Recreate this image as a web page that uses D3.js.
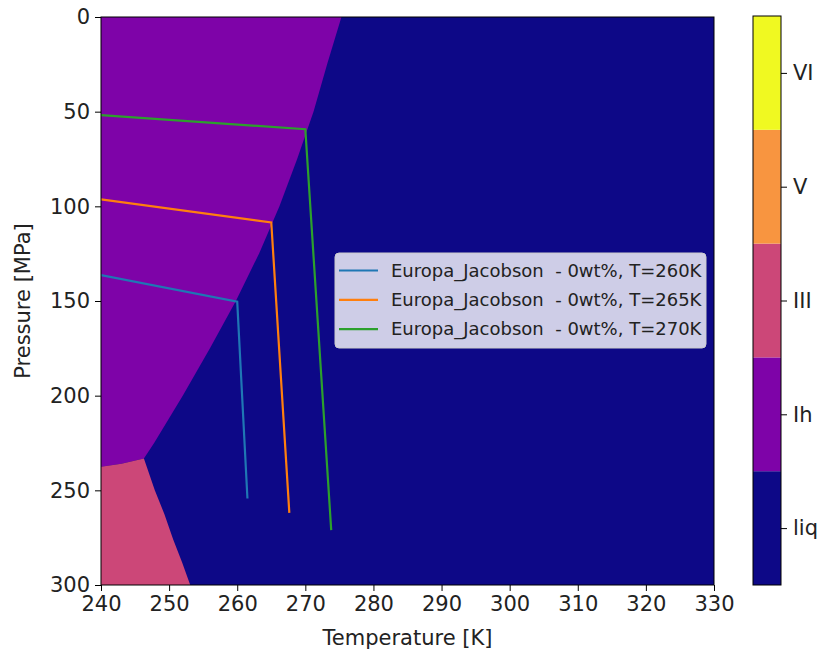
<!DOCTYPE html>
<html>
<head>
<meta charset="utf-8">
<script src="https://cdn.jsdelivr.net/npm/d3@7"></script>
<style>
  body { margin: 0; background: #fff; }
  text { font-family: "DejaVu Sans", sans-serif; fill: #222; }
</style>
</head>
<body>
<svg id="chart" width="823" height="655"></svg>
<script>
// Phase labels and their plasma colours (liq at the bottom of the colorbar)
const phaseNames = ["liq", "Ih", "III", "V", "VI"];
const phaseColors = ["#0d0887", "#7e03a8", "#cc4778", "#f89540", "#f0f921"];

// Axis ticks
const xTicks = [240, 250, 260, 270, 280, 290, 300, 310, 320, 330];
const yTicks = [0, 50, 100, 150, 200, 250, 300];

// Ice Ih / liquid melting curve (pressure MPa, temperature K)
const meltIhP = [0, 25, 50, 75, 100, 125, 150, 175, 200, 225, 233.2];
const meltIhT = [275.3, 273.2, 271.2, 268.8, 266.2, 263.2, 259.8, 256.0, 252.0, 247.8, 246.3];

// Ice Ih / ice III boundary
const ihIIIT = [240, 243, 246.3];
const ihIIIP = [237.6, 236.0, 233.2];

// Ice III / liquid melting curve
const meltIIIP = [233.2, 250, 262.5, 276, 288, 300];
const meltIIIT = [246.3, 247.9, 249.3, 250.6, 251.9, 253.1];

// Ocean temperature profiles
const profileLabels = [
  "Europa_Jacobson  - 0wt%, T=260K",
  "Europa_Jacobson  - 0wt%, T=265K",
  "Europa_Jacobson  - 0wt%, T=270K"
];
const profileColors = ["#1f77b4", "#ff7f0e", "#2ca02c"];
const profileT = [[240, 260, 261.5], [240, 265, 267.65], [240, 270, 273.8]];
const profileP = [[136.3, 150.4, 254.3], [96.3, 108.5, 261.9], [51.8, 59.3, 271.0]];

const tickFont = "21px";
const legendFont = "18px";

const svg = d3.select("#chart");
const x = d3.scaleLinear().domain([240, 330]).range([101, 714]);
const y = d3.scaleLinear().domain([0, 300]).range([17, 585]);

svg.append("defs").append("clipPath").attr("id", "plotClip")
  .append("rect").attr("x", x(240)).attr("y", y(0))
  .attr("width", x(330) - x(240)).attr("height", y(300) - y(0));

const plot = svg.append("g").attr("clip-path", "url(#plotClip)");

// liquid background
plot.append("rect")
  .attr("x", x(240)).attr("y", y(0))
  .attr("width", x(330) - x(240)).attr("height", y(300) - y(0))
  .attr("fill", phaseColors[0]);

const line = d3.line().x(d => x(d[0])).y(d => y(d[1]));

// ice Ih region
const ihPoly = [[240, 0]]
  .concat(meltIhT.map((t, i) => [t, meltIhP[i]]))
  .concat(ihIIIT.map((t, i) => [t, ihIIIP[i]]).reverse());
plot.append("path").attr("d", line(ihPoly) + "Z").attr("fill", phaseColors[1]);

// ice III region
const iiiPoly = ihIIIT.map((t, i) => [t, ihIIIP[i]])
  .concat(meltIIIT.map((t, i) => [t, meltIIIP[i]]))
  .concat([[240, 300]]);
plot.append("path").attr("d", line(iiiPoly) + "Z").attr("fill", phaseColors[2]);

// profiles
profileT.forEach((ts, k) => {
  plot.append("path")
    .attr("d", line(ts.map((t, i) => [t, profileP[k][i]])))
    .attr("fill", "none")
    .attr("stroke", profileColors[k])
    .attr("stroke-width", 2.2)
    .attr("stroke-linejoin", "miter");
});

// axes
const xAxis = svg.append("g").attr("transform", `translate(0,${y(300)})`)
  .call(d3.axisBottom(x).tickValues(xTicks).tickSize(6).tickPadding(5));
const yAxis = svg.append("g").attr("transform", `translate(${x(240)},0)`)
  .call(d3.axisLeft(y).tickValues(yTicks).tickSize(6).tickPadding(5));
[xAxis, yAxis].forEach(a => {
  a.selectAll("text").style("font-size", tickFont).attr("fill", "#222");
  a.selectAll("line").attr("stroke", "#000");
  a.select(".domain").remove();
});

// frame
svg.append("rect")
  .attr("x", x(240)).attr("y", y(0))
  .attr("width", x(330) - x(240)).attr("height", y(300) - y(0))
  .attr("fill", "none").attr("stroke", "#000").attr("stroke-width", 1);

// axis titles
svg.append("text").attr("x", (x(240) + x(330)) / 2).attr("y", 645)
  .attr("text-anchor", "middle").style("font-size", tickFont).text("Temperature [K]");
svg.append("text").attr("transform", `translate(30,${(y(0) + y(300)) / 2}) rotate(-90)`)
  .attr("text-anchor", "middle").style("font-size", tickFont).text("Pressure [MPa]");

// legend
const lg = svg.append("g").attr("transform", "translate(335,253)");
lg.append("rect").attr("width", 371).attr("height", 95).attr("rx", 4)
  .attr("fill", "#fff").attr("fill-opacity", 0.8)
  .attr("stroke", "#ccc").attr("stroke-width", 1);
profileLabels.forEach((lab, k) => {
  const yy = 17.5 + k * 29.3;
  lg.append("line").attr("x1", 4).attr("x2", 43).attr("y1", yy).attr("y2", yy)
    .attr("stroke", profileColors[k]).attr("stroke-width", 2.2);
  lg.append("text").attr("x", 56).attr("y", yy).attr("dy", "0.35em")
    .style("font-size", legendFont).style("white-space", "pre").text(lab);
});

// colorbar
const cb = d3.scaleBand().domain(d3.range(phaseNames.length).reverse()).range([16, 585]);
const cbX = 753, cbW = 28;
const cbg = svg.append("g");
cbg.selectAll("rect.band").data(d3.range(phaseNames.length)).join("rect")
  .attr("class", "band")
  .attr("x", cbX).attr("y", d => cb(d)).attr("width", cbW).attr("height", cb.bandwidth())
  .attr("fill", d => phaseColors[d]);
cbg.append("rect").attr("x", cbX).attr("y", 16).attr("width", cbW).attr("height", 569)
  .attr("fill", "none").attr("stroke", "#000");
const cbAxis = svg.append("g").attr("transform", `translate(${cbX + cbW},0)`)
  .call(d3.axisRight(d3.scalePoint().domain(d3.range(phaseNames.length).reverse())
        .range([16 + cb.bandwidth() / 2, 585 - cb.bandwidth() / 2]))
        .tickFormat(d => phaseNames[d]).tickSize(6).tickPadding(6));
cbAxis.select(".domain").remove();
cbAxis.selectAll("text").style("font-size", tickFont).attr("fill", "#222");
cbAxis.selectAll("line").attr("stroke", "#000");
</script>
</body>
</html>
